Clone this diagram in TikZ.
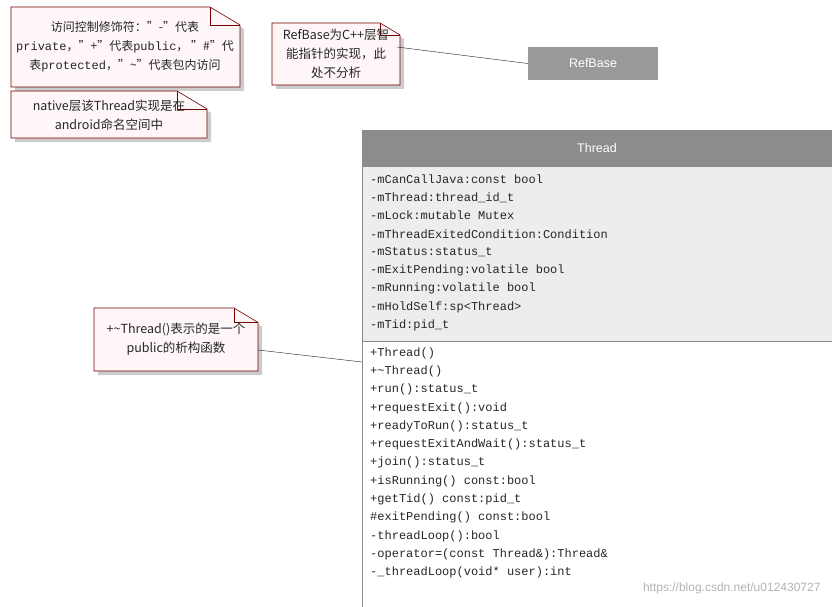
\documentclass[tikz,border=0pt]{standalone}
\usepackage{fontspec}
\setmainfont{Liberation Sans}
\setmonofont{Liberation Mono}
\newfontfamily\cjk{Noto Sans CJK SC}
\begin{document}
\begin{tikzpicture}[x=1pt,y=-1pt,
  notefill/.style={fill=red!3,draw=red!45!black,line width=0.6pt},
  notetext/.style={font=\cjk\fontsize{12.5}{19}\selectfont,align=center,text=black!85},
  mono/.style={font=\ttfamily\fontsize{12}{12}\selectfont,anchor=west,inner sep=0pt,text=black!85}]
\useasboundingbox (0,0) rectangle (832,607);
% notes
\newcommand\drawnote[5]{% x1 y1 x2 y2 fold
  \fill[black!20] (#1+4,#2+4) -- (#3-#5+4,#2+4) -- (#3+4,#2+#5*0.6+4) -- (#3+4,#4+4) -- (#1+4,#4+4) -- cycle;
  \draw[notefill] (#1,#2) -- (#3-#5,#2) -- (#3,#2+#5*0.6) -- (#3,#4) -- (#1,#4) -- cycle;
  \draw[red!45!black,line width=0.6pt] (#3-#5,#2) -- (#3-#5,#2+#5*0.6) -- (#3,#2+#5*0.6);}
\drawnote{11}{7}{240}{87}{30}
\node[notetext,font=\cjk\fontsize{12}{19}\selectfont] (n1) at (125,47) {访问控制修饰符：”-”代表\\\texttt{private}，”+”代表\texttt{public}，  ”\#”代\\表\texttt{protected}，”\~{}”代表包内访问};
\drawnote{11}{91}{207}{138}{30}
\node[notetext] (n2) at (109,115) {native层该Thread实现是在\\android命名空间中};
\drawnote{272}{23}{400}{85}{20}
\node[notetext] (n3) at (336,54) {RefBase为C++层智\\能指针的实现，此\\处不分析};
\drawnote{94}{308}{258}{371}{24}
\node[notetext] (n4) at (176,339) {+\~{}Thread()表示的是一个\\public的析构函数};
% RefBase
\node[fill=black!40,minimum width=130pt,minimum height=33pt,inner sep=0pt,text=white,font=\fontsize{12.5}{12.5}\selectfont] (rb) at (593,63.5) {RefBase};
\coordinate (c3) at (397,47);
\draw[black!90] (c3) -- (rb.west);
% Thread class
\fill[black!45] (362,130) rectangle (832,166);
\fill[black!7] (362,166) rectangle (832,341);
\draw[black!45] (362,130) rectangle (832,607);
\draw[black!45] (362,166) -- (832,166);
\draw[black!45] (362,341) -- (832,341);
\node[text=white,font=\fontsize{12.5}{12.5}\selectfont] (th) at (597,148) {Thread};
\foreach \t [count=\i from 0] in {-mCanCallJava:const bool,-mThread:thread\_id\_t,-mLock:mutable Mutex,-mThreadExitedCondition:Condition,-mStatus:status\_t,-mExitPending:volatile bool,-mRunning:volatile bool,-mHoldSelf:sp<Thread>,-mTid:pid\_t}
  \node[mono] (a\i) at (370,179+18.3*\i) {\t};
\foreach \t [count=\i from 0] in {+Thread(),+\~{}Thread(),+run():status\_t,+requestExit():void,+readyToRun():status\_t,+requestExitAndWait():status\_t,+join():status\_t,+isRunning() const:bool,+getTid() const:pid\_t,\#exitPending() const:bool,-threadLoop():bool,-operator=(const Thread\&):Thread\&,-\_threadLoop(void* user):int}
  \node[mono] (m\i) at (370,353+18.3*\i) {\t};
\coordinate (c4) at (258,350);
\draw[black!90] (c4) -- (362,362);
\node[text=black!30,font=\fontsize{12}{12}\selectfont,anchor=east] (wm) at (824,588) {https://blog.csdn.net/u012430727};
\end{tikzpicture}
\end{document}
